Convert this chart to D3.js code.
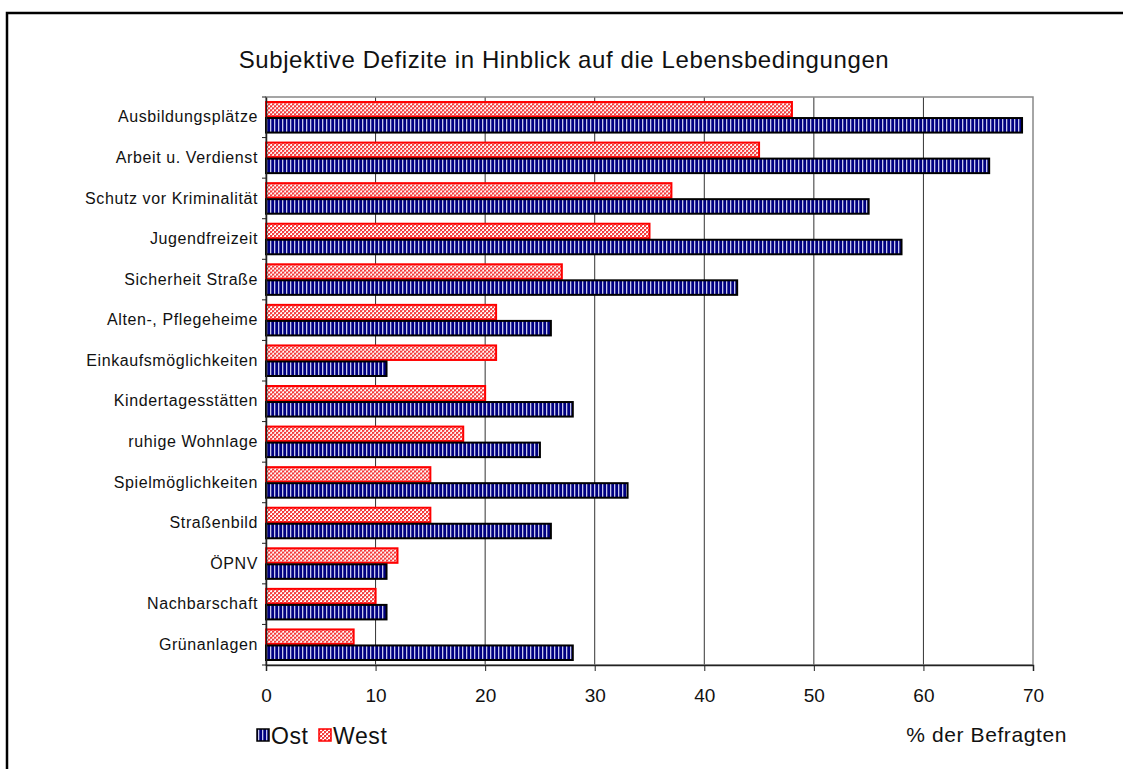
<!DOCTYPE html>
<meta charset="utf-8">
<style>
  body { margin: 0; background: #fff; }
  text { font-family: "Liberation Sans", Arial, sans-serif; fill: #111; }
</style>
<svg width="1123" height="769"></svg>
<script src="https://d3js.org/d3.v7.min.js"></script>
<script>
const categories = ["Ausbildungsplätze", "Arbeit u. Verdienst", "Schutz vor Kriminalität", "Jugendfreizeit",
  "Sicherheit Straße", "Alten-, Pflegeheime", "Einkaufsmöglichkeiten", "Kindertagesstätten",
  "ruhige Wohnlage", "Spielmöglichkeiten", "Straßenbild", "ÖPNV", "Nachbarschaft", "Grünanlagen"];
const west = [48, 45, 37, 35, 27, 21, 21, 20, 18, 15, 15, 12, 10, 8];
const ost  = [69, 66, 55, 58, 43, 26, 11, 28, 25, 33, 26, 11, 11, 28];
const series = ["West", "Ost"];
const xTicks = [0, 10, 20, 30, 40, 50, 60, 70];

const svg = d3.select("svg");

// Muster fuer die Balken
const defs = svg.append("defs");
const pOst = defs.append("pattern").attr("id", "pOst")
    .attr("patternUnits", "userSpaceOnUse").attr("width", 4).attr("height", 4);
pOst.append("rect").attr("width", 4).attr("height", 4).attr("fill", "#000080");
pOst.append("rect").attr("x", 2).attr("width", 1.3).attr("height", 4).attr("fill", "#c8c8ec");

const pWest = defs.append("pattern").attr("id", "pWest")
    .attr("patternUnits", "userSpaceOnUse").attr("width", 4).attr("height", 4);
pWest.append("rect").attr("width", 4).attr("height", 4).attr("fill", "#ffffff");
pWest.append("rect").attr("x", 2).attr("y", 0).attr("width", 2).attr("height", 2).attr("fill", "#f43c3c");
pWest.append("rect").attr("x", 0).attr("y", 2).attr("width", 2).attr("height", 2).attr("fill", "#f43c3c");
pWest.append("rect").attr("x", 0).attr("y", 0).attr("width", 1).attr("height", 1).attr("fill", "#f8a8a8");
pWest.append("rect").attr("x", 2).attr("y", 2).attr("width", 1).attr("height", 1).attr("fill", "#f8a8a8");

const fills = {West: "url(#pWest)", Ost: "url(#pOst)"};
const strokes = {West: "#ff0000", Ost: "#000000"};

// Rahmen
svg.append("path")
    .attr("d", "M7,769V13H1123")
    .attr("fill", "none").attr("stroke", "#000").attr("stroke-width", 2.5);

const margin = {top: 97, right: 90, bottom: 104, left: 266};
const width = 1123, height = 769;

const x = d3.scaleLinear().domain([0, 70]).range([margin.left, width - margin.right]);
const y = d3.scaleBand().domain(categories)
    .range([margin.top, height - margin.bottom])
    .paddingInner(0.21).paddingOuter(0.105);
const ySub = d3.scaleBand().domain(series).range([0, y.bandwidth()]);

// Titel
svg.append("text")
    .attr("x", 564).attr("y", 68)
    .attr("text-anchor", "middle")
    .attr("font-size", 24)
    .attr("letter-spacing", 0.6)
    .text("Subjektive Defizite in Hinblick auf die Lebensbedingungen");

// Gitter
svg.append("g")
  .selectAll("line")
  .data(xTicks.slice(1, -1))
  .join("line")
    .attr("x1", d => x(d)).attr("x2", d => x(d))
    .attr("y1", margin.top).attr("y2", height - margin.bottom)
    .attr("stroke", "#333").attr("stroke-width", 1);

svg.append("rect")
    .attr("x", x(0)).attr("y", margin.top)
    .attr("width", x(70) - x(0)).attr("height", height - margin.bottom - margin.top)
    .attr("fill", "none").attr("stroke", "#888").attr("stroke-width", 1.5);

// Balken
const rows = categories.map((c, i) => ({cat: c, West: west[i], Ost: ost[i]}));
svg.append("g")
  .selectAll("g")
  .data(rows)
  .join("g")
    .attr("transform", d => `translate(0,${y(d.cat)})`)
  .selectAll("rect")
  .data(d => series.map(s => ({s, v: d[s]})))
  .join("rect")
    .attr("x", x(0))
    .attr("y", d => ySub(d.s) + 0.75)
    .attr("width", d => x(d.v) - x(0))
    .attr("height", ySub.bandwidth() - 1.5)
    .attr("fill", d => fills[d.s])
    .attr("stroke", d => strokes[d.s])
    .attr("stroke-width", 2);

// x-Achse
const xAxis = svg.append("g")
    .attr("transform", `translate(0,${height - margin.bottom})`)
    .call(d3.axisBottom(x).tickValues(xTicks).tickSize(6).tickPadding(18));
xAxis.select(".domain").attr("stroke", "#222").attr("stroke-width", 1.5);
xAxis.selectAll(".tick line").attr("stroke", "#222");
xAxis.selectAll("text").attr("font-size", 19).attr("font-family", "Liberation Sans, Arial, sans-serif").attr("fill", "#111");

// y-Achse
const yAxis = svg.append("g")
    .attr("transform", `translate(${x(0)},0)`)
    .call(d3.axisLeft(y).tickSize(0).tickPadding(8));
yAxis.select(".domain").attr("stroke", "#222").attr("stroke-width", 1.5);
yAxis.selectAll("text").attr("font-size", 16).attr("letter-spacing", 0.6)
    .attr("font-family", "Liberation Sans, Arial, sans-serif").attr("fill", "#111");

const step = y.step();
svg.append("g")
  .selectAll("line")
  .data(d3.range(categories.length + 1))
  .join("line")
    .attr("x1", x(0) - 4).attr("x2", x(0))
    .attr("y1", i => margin.top + i * step).attr("y2", i => margin.top + i * step)
    .attr("stroke", "#222");

// Legende
const legend = svg.append("g").attr("transform", "translate(256,729)");
[{s: "Ost", dx: 0}, {s: "West", dx: 62}].forEach(l => {
  legend.append("rect")
      .attr("x", l.dx + 1).attr("y", 0)
      .attr("width", 12).attr("height", 12)
      .attr("fill", fills[l.s]).attr("stroke", strokes[l.s]).attr("stroke-width", 1.5);
  legend.append("text")
      .attr("x", l.dx + 15).attr("y", 15)
      .attr("font-size", 23)
      .attr("letter-spacing", 0.6)
      .text(l.s);
});

svg.append("text")
    .attr("x", 1067).attr("y", 742)
    .attr("text-anchor", "end")
    .attr("font-size", 21)
    .attr("letter-spacing", 0.6)
    .text("% der Befragten");
</script>
